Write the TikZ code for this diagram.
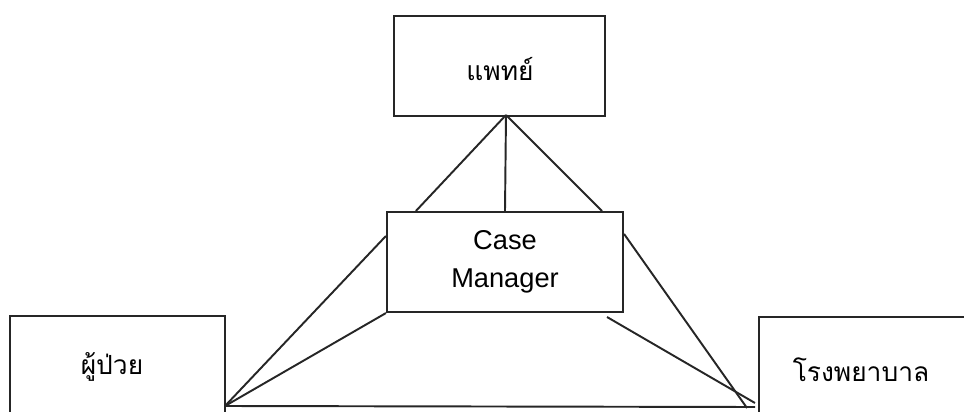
\documentclass[tikz,border=0pt]{standalone}
\usepackage{fontspec}
\setmainfont{Liberation Sans}
\newfontfamily\thaifont[Script=Thai]{Loma}
\usetikzlibrary{calc}
\begin{document}
\begin{tikzpicture}[x=0.02cm,y=-0.02cm]
        \tikzstyle{party}=[rectangle,draw=black!85,line width=1.2pt,inner sep=0pt]
        \tikzstyle{thai}=[font=\thaifont\fontsize{15}{18}\selectfont]
        \tikzstyle{edge}=[draw=black!85,line width=1.1pt]
        \useasboundingbox (0,0) rectangle (964,412);
        \clip (0,0) rectangle (964,412);
       \begin{scope}
         % boxes
         \node [party,minimum width=211*0.02cm,minimum height=100*0.02cm] (doctor) at (499.5,66) {};
         \node [party,minimum width=236*0.02cm,minimum height=100*0.02cm,align=center,
                font=\fontsize{15.5}{21.5}\selectfont] (cm) at (505,262) {Case\\Manager};
         \node [party,minimum width=215*0.02cm,minimum height=130*0.02cm] (patient) at (117.5,381) {};
         \node [party,minimum width=240*0.02cm,minimum height=130*0.02cm] (hospital) at (879,382) {};
         % labels
         \node [thai] (tdoctor) at (500,69) {แพทย์};
         \node [thai] (tpatient) at (112,367) {ผู้ป่วย};
         \node [thai] (thospital) at (861,370) {โรงพยาบาล};
         % end points
         \coordinate (apex) at (506,115);
         \coordinate (pcorner) at (225,406);
         \coordinate (hend) at (755,407);
         \coordinate (hsteep) at (747,408);
         \coordinate (hflat) at (755,403);
         \coordinate (cmlow) at (607,317);
         % connectors
         \path[edge] (apex) -- ($(cm.north west)+(30,0)$);
         \path[edge] (apex) -- (cm.north);
         \path[edge] (apex) -- ($(cm.north east)+(-22,0)$);
         \path[edge] (pcorner) -- ($(cm.north west)+(0,25)$);
         \path[edge] (pcorner) -- (cm.south west);
         \path[edge] (pcorner) -- (hend);
         \path[edge] ($(cm.north east)+(0,23)$) -- (hsteep);
         \path[edge] (cmlow) -- (hflat);
        \end{scope}
      \end{tikzpicture}
\end{document}
